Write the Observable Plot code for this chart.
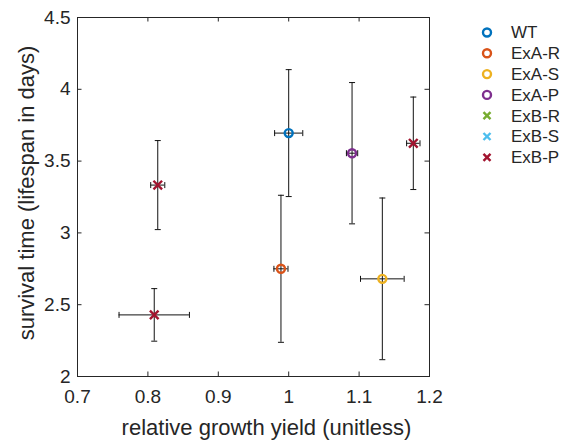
<!DOCTYPE html>
<html>
<head>
<meta charset="utf-8">
<script src="https://cdn.jsdelivr.net/npm/d3@7"></script>
<script src="https://cdn.jsdelivr.net/npm/@observablehq/plot@0.6"></script>
<style>
  html, body { margin: 0; padding: 0; background: #fff; }
  #wrap { position: relative; width: 571px; height: 441px; font-family: "Liberation Sans", Arial, Helvetica, sans-serif; }
  #legend { position: absolute; left: 470px; top: 15px; }
</style>
</head>
<body>
<div id="wrap">
  <div id="chart"></div>
  <div id="legend"></div>
</div>
<script>
// Strains shown in the legend, with their colours and marker shapes
const seriesNames = ["WT", "ExA-R", "ExA-S", "ExA-P", "ExB-R", "ExB-S", "ExB-P"];
const seriesColors = ["#0072BD", "#D95319", "#EDB120", "#7E2F8E", "#77AC30", "#4DBEEE", "#A2142F"];
const seriesSymbols = ["circle", "circle", "circle", "circle", "times", "times", "times"];

// Measured points: group, mean growth yield, mean survival time, and their errors
const pointGroup = ["WT", "ExA-R", "ExA-S", "ExA-P", "ExB-P", "ExB-P", "ExB-P"];
const growthYield = [1.000, 0.989, 1.133, 1.090, 0.814, 0.809, 1.177];
const survivalDays = [3.695, 2.750, 2.680, 3.555, 3.333, 2.429, 3.624];
const yieldErr = [0.020, 0.010, 0.031, 0.008, 0.010, 0.050, 0.0095];
const survivalErr = [0.442, 0.512, 0.563, 0.492, 0.310, 0.183, 0.322];

// Axis ticks
const xTicks = [0.7, 0.8, 0.9, 1.0, 1.1, 1.2];
const yTicks = [2, 2.5, 3, 3.5, 4, 4.5];

const points = pointGroup.map((g, i) => ({
  group: g,
  x: growthYield[i],
  y: survivalDays[i],
  xe: yieldErr[i],
  ye: survivalErr[i]
}));

const W = 571, H = 441;
const mTop = 17, mRight = 142, mBottom = 65, mLeft = 77;
const plotH = H - mTop - mBottom;
const plotW = W - mLeft - mRight;
const tickLen = 4.5;
const axisColor = "#262626";

// Short error-bar caps as custom symbols
const capH = { draw(ctx) { ctx.moveTo(-3, 0); ctx.lineTo(3, 0); } };
const capV = { draw(ctx) { ctx.moveTo(0, -3); ctx.lineTo(0, 3); } };

const chart = Plot.plot({
  width: W,
  height: H,
  marginTop: mTop,
  marginRight: mRight,
  marginBottom: mBottom,
  marginLeft: mLeft,
  style: { fontFamily: "Liberation Sans, Arial, Helvetica, sans-serif", color: axisColor, background: "white" },
  x: { domain: [0.7, 1.2] },
  y: { domain: [2, 4.5] },
  color: { domain: seriesNames, range: seriesColors },
  symbol: { domain: seriesNames, range: seriesSymbols },
  marks: [
    // inward tick marks on all four sides
    Plot.tickX(xTicks, { x: d => d, insetTop: plotH - tickLen, stroke: axisColor }),
    Plot.tickX(xTicks, { x: d => d, insetBottom: plotH - tickLen, stroke: axisColor }),
    Plot.tickY(yTicks, { y: d => d, insetRight: plotW - tickLen, stroke: axisColor }),
    Plot.tickY(yTicks, { y: d => d, insetLeft: plotW - tickLen, stroke: axisColor }),
    Plot.frame({ stroke: axisColor }),
    Plot.axisX({ ticks: xTicks, tickSize: 0, tickPadding: 13, fontSize: 19, label: null, tickFormat: d => String(d) }),
    Plot.axisY({ ticks: yTicks, tickSize: 0, tickPadding: 7, fontSize: 19, label: null, tickFormat: d => String(d) }),
    Plot.text(["relative growth yield (unitless)"], { frameAnchor: "bottom", textAnchor: "middle", dx: 13, dy: 51, fontSize: 22, lineAnchor: "middle", fill: axisColor }),
    Plot.text(["survival time (lifespan in days)"], { frameAnchor: "left", textAnchor: "middle", rotate: -90, dx: -51, dy: -4, fontSize: 22, lineAnchor: "middle", fill: axisColor }),
    // error bars
    Plot.ruleX(points, { x: "x", y1: d => d.y - d.ye, y2: d => d.y + d.ye, stroke: "#111", strokeWidth: 1 }),
    Plot.ruleY(points, { y: "y", x1: d => d.x - d.xe, x2: d => d.x + d.xe, stroke: "#111", strokeWidth: 1 }),
    Plot.dot(points, { x: "x", y: d => d.y - d.ye, symbol: capH, r: 3, stroke: "#111", strokeWidth: 1, fill: "none" }),
    Plot.dot(points, { x: "x", y: d => d.y + d.ye, symbol: capH, r: 3, stroke: "#111", strokeWidth: 1, fill: "none" }),
    Plot.dot(points, { x: d => d.x - d.xe, y: "y", symbol: capV, r: 3, stroke: "#111", strokeWidth: 1, fill: "none" }),
    Plot.dot(points, { x: d => d.x + d.xe, y: "y", symbol: capV, r: 3, stroke: "#111", strokeWidth: 1, fill: "none" }),
    // markers
    Plot.dot(points, { x: "x", y: "y", stroke: "group", symbol: "group", r: 4, strokeWidth: 2.4, fill: "none" })
  ]
});
document.getElementById("chart").appendChild(chart);

// Legend: one row per strain
const rowGap = 20.8;
const leg = d3.select("#legend").append("svg")
  .attr("width", 100)
  .attr("height", 160)
  .style("font-family", "Liberation Sans, Arial, Helvetica, sans-serif");
seriesNames.forEach((name, i) => {
  const cy = 17.5 + i * rowGap;
  const isCircle = seriesSymbols[i] === "circle";
  leg.append("path")
    .attr("transform", `translate(17,${cy})`)
    .attr("d", d3.symbol(isCircle ? d3.symbolCircle : d3.symbolTimes, isCircle ? Math.PI * 16 : 34)())
    .attr("fill", "none")
    .attr("stroke", seriesColors[i])
    .attr("stroke-width", 2.4);
  leg.append("text")
    .attr("x", 41)
    .attr("y", cy)
    .attr("dy", "0.35em")
    .attr("font-size", 17)
    .attr("fill", axisColor)
    .text(name);
});
</script>
</body>
</html>
